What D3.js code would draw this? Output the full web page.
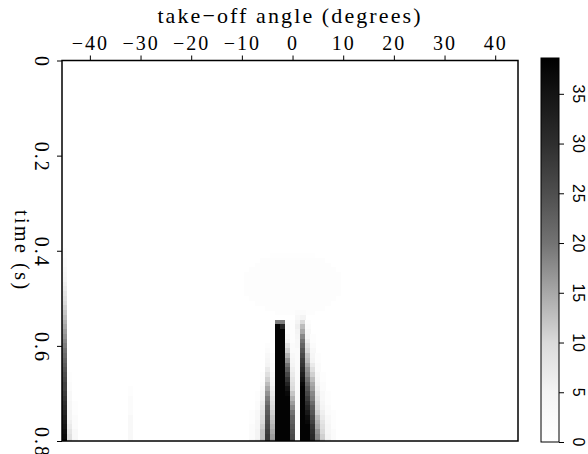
<!DOCTYPE html>
<html>
<head>
<meta charset="utf-8">
<script src="https://cdn.jsdelivr.net/npm/d3@7"></script>
<style>
  body { margin: 0; background: white; }
</style>
</head>
<body>
<script>
// x axis ticks (take-off angle, degrees)
var angleTicks = [-40, -30, -20, -10, 0, 10, 20, 30, 40]
// y axis ticks (time, s)
var timeTicks = [0, 0.2, 0.4, 0.6, 0.8]
// colour bar ticks
var barTicks = [0, 5, 10, 15, 20, 25, 30, 35]

// colour map stops, value -> grey level
var cmapValues = [0, 5, 10, 15, 20, 25, 30, 35, 38.6]
var cmapGrey = [255, 244, 218, 168, 115, 78, 46, 20, 0]

// non-zero columns: angle, first time sample, amplitudes every 0.01 s down to 0.8 s
var colAngles = [-45, -44, -43, -32, -8, -7, -6, -5, -4, -3, -2, -1, 0, 1, 2, 3, 4, 5, 6, 7, 8]
var colStart = [0.40, 0.66, 0.72, 0.69, 0.74, 0.70, 0.66, 0.60, 0.62, 0.55, 0.55, 0.55, 0.55, 0.52, 0.53, 0.55, 0.58, 0.62, 0.66, 0.70, 0.74]
var colValues = [
    [1, 1, 2, 2, 3, 4, 5, 6, 7, 8, 9, 10, 11, 12, 13, 14, 15, 16, 17, 18, 19, 20, 21, 22, 23, 24, 25, 26, 27, 27, 28, 29, 30, 31, 32, 33, 34, 35, 36, 37, 38],
    [1, 1, 2, 2, 3, 3, 4, 4, 5, 5, 6, 7, 8, 9, 10],
    [1, 1, 1, 2, 2, 2, 3, 3, 4],
    [1, 1, 2, 2, 2, 2, 3, 3, 3, 3, 3, 3],
    [1, 1, 1, 2, 2, 2, 3],
    [1, 1, 2, 2, 3, 3, 4, 4, 5, 5, 6],
    [1, 1, 2, 3, 4, 5, 6, 7, 8, 9, 10, 11, 12, 12, 13],
    [1, 2, 3, 4, 5, 7, 9, 11, 13, 15, 17, 19, 20, 22, 23, 24, 25, 26, 27, 28, 28],
    [1, 1, 2, 2, 3, 4, 5, 6, 7, 8, 9, 10, 11, 12, 13, 14, 15, 16, 17],
    [19, 38, 38, 38, 38, 38, 38, 38, 38, 38, 38, 38, 38, 38, 38, 38, 38, 38, 38, 38, 38, 38, 38, 38, 38, 38],
    [19, 32, 38, 38, 38, 38, 38, 38, 38, 38, 38, 38, 38, 38, 38, 38, 38, 38, 38, 38, 38, 38, 38, 38, 38, 38],
    [1, 2, 2, 3, 5, 8, 11, 14, 17, 20, 23, 26, 29, 32, 35, 37, 38, 38, 38, 38, 38, 38, 38, 38, 38, 38],
    [1, 1, 1, 1, 1, 2, 2, 3, 4, 5, 6, 7, 8, 9, 10, 12, 14, 16, 18, 20, 22, 23, 24, 25, 26, 27],
    [1, 2, 3, 5, 6, 5, 4, 3, 3, 2, 2, 2, 2, 2, 2, 2, 2, 2, 2, 2, 2, 2, 2, 2, 2, 2, 2, 2, 2],
    [2, 5, 10, 13, 15, 18, 20, 22, 24, 26, 28, 29, 31, 33, 35, 37, 38, 38, 38, 38, 38, 38, 38, 38, 38, 38, 38, 38],
    [1, 2, 3, 4, 6, 8, 10, 12, 13, 15, 17, 18, 20, 22, 24, 26, 28, 30, 32, 34, 36, 37, 38, 38, 38, 38],
    [1, 1, 2, 3, 4, 5, 7, 9, 11, 13, 15, 16, 18, 19, 21, 23, 24, 26, 27, 29, 30, 31, 32],
    [1, 1, 2, 2, 3, 4, 5, 6, 7, 8, 9, 10, 11, 13, 14, 15, 17, 18, 19],
    [1, 1, 2, 2, 3, 3, 4, 5, 6, 7, 8, 9, 10, 11, 12],
    [1, 1, 1, 2, 2, 3, 3, 4, 4, 5, 6],
    [1, 1, 1, 1, 2, 2, 2]
]

// faint disc around 0 degrees, 0.47 s: time, first angle, last angle, amplitude
var blobTimes = [0.41, 0.42, 0.43, 0.44, 0.45, 0.46, 0.47, 0.48, 0.49, 0.50, 0.51, 0.52, 0.53]
var blobFrom = [-4, -6, -7, -8, -9, -9, -9, -9, -9, -8, -7, -5, -3]
var blobTo = [4, 6, 7, 8, 9, 9, 9, 9, 9, 8, 7, 6, 4]
var blobValues = [0.6, 0.8, 0.9, 1, 1, 1.1, 1.1, 1.1, 1, 1, 0.9, 0.8, 0.7]

var w = 588
var h = 454
var plotLeft = 62, plotRight = 518, plotTop = 60.5, plotBottom = 441
var dt = 0.01
var serif = "'Liberation Serif', 'Times New Roman', serif"
var sans = "'Liberation Sans', Arial, sans-serif"

var svg = d3.select("body")
    .append("svg")
    .attr("width", w)
    .attr("height", h)

var xScale = d3.scaleLinear()
    .domain([-45.5, 44.5])
    .range([plotLeft, plotRight])

var yScale = d3.scaleLinear()
    .domain([0, 0.8])
    .range([plotTop, plotBottom])

var colour = d3.scaleLinear()
    .domain(cmapValues)
    .range(cmapGrey.map(function(g) { return d3.rgb(g, g, g) }))
    .clamp(true)

svg.append("clipPath")
    .attr("id", "plotclip")
    .append("rect")
    .attr("x", plotLeft)
    .attr("y", plotTop)
    .attr("width", plotRight - plotLeft)
    .attr("height", plotBottom - plotTop)

var cells = svg.append("g")
    .attr("clip-path", "url(#plotclip)")
    .attr("shape-rendering", "crispEdges")

// faint disc
cells.selectAll("rect.blob")
    .data(blobTimes)
    .enter()
    .append("rect")
    .attr("class", "blob")
    .attr("x", function(d, i) { return xScale(blobFrom[i] - 0.5) })
    .attr("width", function(d, i) { return xScale(blobTo[i] + 0.5) - xScale(blobFrom[i] - 0.5) })
    .attr("y", function(d) { return yScale(d - dt / 2) })
    .attr("height", function(d) { return yScale(d + dt / 2) - yScale(d - dt / 2) + 0.3 })
    .attr("fill", function(d, i) { return colour(blobValues[i]) })

// columns
var samples = []
colAngles.forEach(function(a, i) {
    colValues[i].forEach(function(v, k) {
        samples.push({ angle: a, time: colStart[i] + k * dt, value: v })
    })
})

cells.selectAll("rect.cell")
    .data(samples)
    .enter()
    .append("rect")
    .attr("class", "cell")
    .attr("x", function(d) { return xScale(d.angle - 0.5) })
    .attr("width", function(d) { return xScale(d.angle + 0.5) - xScale(d.angle - 0.5) + 0.3 })
    .attr("y", function(d) { return yScale(d.time - dt / 2) })
    .attr("height", function(d) { return yScale(d.time + dt / 2) - yScale(d.time - dt / 2) + 0.3 })
    .attr("fill", function(d) { return colour(d.value) })

// frame
svg.append("rect")
    .attr("x", plotLeft)
    .attr("y", plotTop)
    .attr("width", plotRight - plotLeft)
    .attr("height", plotBottom - plotTop)
    .attr("fill", "none")
    .attr("stroke", "black")
    .attr("stroke-width", 1.5)

// top axis
var xAxis = d3.axisTop(xScale)
    .tickValues(angleTicks)
    .tickSize(5)
    .tickSizeOuter(0)
var gx = svg.append("g")
    .attr("transform", "translate(0," + plotTop + ")")
    .call(xAxis)
gx.select(".domain").remove()
gx.selectAll("text")
    .attr("dy", "-0.15em")
    .attr("fill", "black")
    .style("font-size", "20px")
    .style("font-family", serif)
    .style("letter-spacing", "2px")

svg.append("text")
    .attr("text-anchor", "middle")
    .attr("x", (plotLeft + plotRight) / 2)
    .attr("y", 23)
    .style("font-size", "22px")
    .style("font-family", serif)
    .style("letter-spacing", "2.1px")
    .text("take\u2212off angle (degrees)")

// left axis with labels turned clockwise
var yAxis = d3.axisLeft(yScale)
    .tickValues(timeTicks)
    .tickSize(5)
    .tickSizeOuter(0)
    .tickFormat(d3.format("~g"))
var gy = svg.append("g")
    .attr("transform", "translate(" + plotLeft + ",0)")
    .call(yAxis)
gy.select(".domain").remove()
gy.selectAll("text")
    .attr("x", null)
    .attr("dy", null)
    .attr("text-anchor", "middle")
    .attr("transform", "translate(-27,1) rotate(90)")
    .attr("fill", "black")
    .style("font-size", "20px")
    .style("font-family", serif)
    .style("letter-spacing", "2px")

svg.append("text")
    .attr("text-anchor", "middle")
    .attr("transform", "translate(15," + ((plotTop + plotBottom) / 2) + ") rotate(90)")
    .style("font-size", "20px")
    .style("font-family", serif)
    .style("letter-spacing", "2.5px")
    .text("time (s)")

// colour bar
var barLeft = 541, barRight = 559, barTop = 58, barBottom = 442
var barScale = d3.scaleLinear()
    .domain([0, 38.6])
    .range([barBottom, barTop])

var grad = svg.append("defs")
    .append("linearGradient")
    .attr("id", "bargrad")
    .attr("x1", 0).attr("y1", 1)
    .attr("x2", 0).attr("y2", 0)
grad.selectAll("stop")
    .data(cmapValues)
    .enter()
    .append("stop")
    .attr("offset", function(d) { return d / 38.6 })
    .attr("stop-color", function(d) { return colour(d) })

svg.append("rect")
    .attr("x", barLeft)
    .attr("y", barTop)
    .attr("width", barRight - barLeft)
    .attr("height", barBottom - barTop)
    .attr("fill", "url(#bargrad)")
    .attr("stroke", "black")
    .attr("stroke-width", 1)

var barAxis = d3.axisRight(barScale)
    .tickValues(barTicks)
    .tickSize(5)
    .tickSizeOuter(0)
var gb = svg.append("g")
    .attr("transform", "translate(" + barRight + ",0)")
    .call(barAxis)
gb.select(".domain").remove()
gb.selectAll("text")
    .attr("x", null)
    .attr("dy", null)
    .attr("text-anchor", "middle")
    .attr("transform", "translate(14,0) rotate(90)")
    .attr("fill", "black")
    .style("font-size", "16px")
    .style("font-family", sans)
    .style("letter-spacing", "1px")
</script>
</body>
</html>
